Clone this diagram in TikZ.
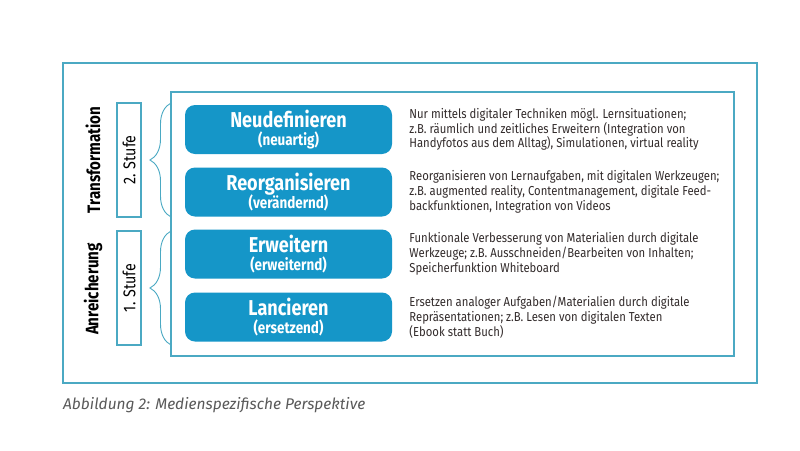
\documentclass[tikz,border=0pt]{standalone}
\usepackage{fontspec}
\setmainfont{Fira Sans}
\newfontfamily\condfont[FakeStretch=0.84]{Fira Sans}
\newfontfamily\beschrfont[FakeStretch=0.87]{Fira Sans}
\usepackage{xcolor}
\usepackage{tikz}
\usetikzlibrary{calc}
\usetikzlibrary{positioning}
\usetikzlibrary{decorations.pathreplacing}

\definecolor{framecol}{HTML}{4BA9C3}
\definecolor{boxcol}{HTML}{1596C8}
\definecolor{txtcol}{HTML}{332C2C}
\newcommand{\klein}[1]{{\condfont\bfseries\fontsize{16}{18}\selectfont #1}}

\begin{document}
\begin{tikzpicture}[x=1pt, y=-1pt,
  frame/.style={draw=framecol, line width=1.3pt},
  stufe/.style={draw=framecol, line width=1.3pt, rotate=90, minimum width=114pt, minimum height=24pt, inner sep=0pt, font=\condfont\fontsize{17}{17}\selectfont},
  seite/.style={rotate=90, inner sep=0pt, font=\condfont\bfseries\fontsize{18}{18}\selectfont},
  ebene/.style={fill=boxcol, rounded corners=10pt, minimum width=207pt, minimum height=49pt, inner sep=0pt, align=center, text=white, font=\condfont\bfseries\fontsize{21.5}{22}\selectfont},
  beschr/.style={right=17pt of #1, anchor=west, inner sep=0pt, align=left, text=txtcol, font=\beschrfont\fontsize{13}{14.7}\selectfont},
  klammer/.style={draw=framecol, line width=0.9pt, decorate, decoration={brace, amplitude=21pt, aspect=0.5}}
]
\useasboundingbox (0,0) rectangle (800,450);

% Rahmen
\draw[frame] (63,63) rectangle (757,383);
\draw[frame, fill=white] (171,92) rectangle (734,356);

% Stufen links
\node[seite] (trans) at (93,160) {Transformation};
\node[seite] (anr) at (93,289) {Anreicherung};
\node[stufe] (s2) at (129,160) {2. Stufe};
\node[stufe] (s1) at (129,288) {1. Stufe};

\coordinate (k2u) at ($(s2.center)+(42,57)$);
\coordinate (k2o) at ($(s2.center)+(42,-57)$);
\coordinate (k1u) at ($(s1.center)+(42,57)$);
\coordinate (k1o) at ($(s1.center)+(42,-57)$);
\path[klammer] (k2u) -- (k2o);
\path[klammer] (k1u) -- (k1o);

% Ebenen
\node[ebene] (neu) at (288.5,129.5) {Neudefinieren\\[-4pt]\klein{(neuartig)}};
\node[ebene] (reorg) at (288.5,192) {Reorganisieren\\[-4pt]\klein{(verändernd)}};
\node[ebene] (erw) at (288.5,254) {Erweitern\\[-4pt]\klein{(erweiternd)}};
\node[ebene] (lanc) at (288.5,317) {Lancieren\\[-4pt]\klein{(ersetzend)}};

% Beschreibungen
\node[beschr=neu] (bneu) {Nur mittels digitaler Techniken mögl. Lernsituationen;\\z.B. räumlich und zeitliches Erweitern (Integration von\\Handyfotos aus dem Alltag), Simulationen, virtual reality};
\node[beschr=reorg] (breorg) {Reorganisieren von Lernaufgaben, mit digitalen Werkzeugen;\\z.B. augmented reality, Contentmanagement, digitale Feed-\\backfunktionen, Integration von Videos};
\node[beschr=erw] (berw) {Funktionale Verbesserung von Materialien durch digitale\\Werkzeuge; z.B. Ausschneiden/Bearbeiten von Inhalten;\\Speicherfunktion Whiteboard};
\node[beschr=lanc] (blanc) {Ersetzen analoger Aufgaben/Materialien durch digitale\\Repräsentationen; z.B. Lesen von digitalen Texten\\(Ebook statt Buch)};

% Bildunterschrift
\node[anchor=west, inner sep=0pt, text=black!65, font=\itshape\fontsize{15.5}{16}\selectfont] (titel) at (63,405) {Abbildung 2: Medienspezifische Perspektive};

\end{tikzpicture}
\end{document}
